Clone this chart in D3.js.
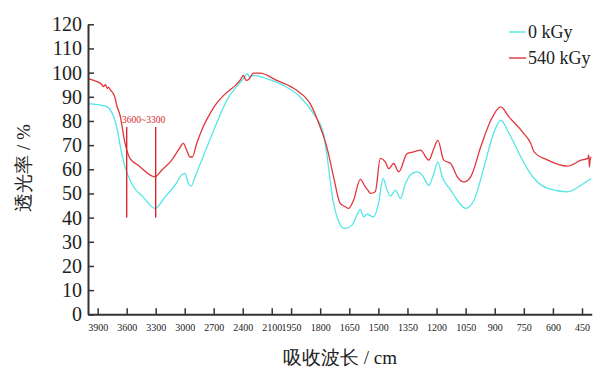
<!DOCTYPE html>
<html>
<head>
<meta charset="utf-8">
<script src="https://cdn.jsdelivr.net/npm/d3@7"></script>
<style>
  body { margin: 0; background: #fff; }
  text { font-family: "Liberation Serif", "Times New Roman", serif; }
</style>
</head>
<body>
<div id="chart"></div>
<script>
// wavenumber (cm^-1) / transmittance (%)
const wn0 = [4000, 3824, 3760, 3703, 3651, 3617, 3548, 3431, 3307, 3203, 3100, 3031, 2997, 2962, 2934, 2893, 2824, 2755, 2686, 2565, 2393, 2352, 2331, 2290, 2151, 1990, 1904, 1835, 1783, 1769, 1734, 1700, 1674, 1636, 1611, 1594, 1576, 1559, 1525, 1499, 1476, 1455, 1438, 1412, 1386, 1360, 1335, 1300, 1274, 1240, 1214, 1193, 1171, 1127, 1093, 1050, 1007, 955, 912, 869, 826, 765, 722, 697, 627, 524, 455, 403];
const t0 = [87.2, 86.2, 84, 77.5, 66.5, 61, 54, 48.6, 43.8, 48.6, 53.4, 57.6, 58.3, 54.1, 53, 56.9, 63.8, 70.7, 77.5, 88.5, 97.5, 99.6, 98.2, 98.9, 97.5, 94.7, 90, 83, 74.8, 68, 47.2, 37.6, 35.5, 36.9, 41, 43.4, 40.3, 41.4, 40.3, 45.9, 56.2, 51.4, 48.9, 51.4, 47.9, 54.1, 57.6, 58.9, 57.6, 53.4, 58.3, 63.1, 56.9, 51.4, 47.2, 43.8, 47.2, 61, 73.4, 80.3, 74.8, 65.1, 58.9, 56.2, 52.1, 50.7, 53.4, 56.2];

const wn540 = [3997, 3940, 3893, 3860, 3840, 3820, 3800, 3790, 3770, 3755, 3738, 3720, 3703, 3669, 3617, 3566, 3480, 3307, 3238, 3134, 3066, 3014, 2979, 2945, 2921, 2876, 2824, 2760, 2686, 2600, 2428, 2393, 2366, 2331, 2290, 2221, 2048, 1921, 1852, 1800, 1766, 1731, 1697, 1670, 1654, 1628, 1593, 1567, 1555, 1541, 1516, 1490, 1464, 1447, 1421, 1395, 1352, 1318, 1283, 1240, 1214, 1193, 1163, 1127, 1093, 1059, 1024, 972, 920, 869, 826, 757, 714, 697, 627, 524, 455, 420, 415, 412, 408, 403];
const t540 = [97.5, 96.8, 96.1, 95.2, 94.2, 95.0, 93.4, 94.0, 93.0, 92.2, 91.3, 89.5, 86.5, 82.4, 70.7, 64.5, 61.7, 56.9, 59.6, 63.8, 67.9, 70.7, 67.9, 65.1, 65.1, 70.7, 76.2, 81.5, 86.5, 90.5, 96.8, 98.9, 96.8, 97.5, 99.8, 99.8, 96.8, 92.7, 87.2, 77.5, 69.3, 56.9, 45.9, 44.5, 43.8, 47.2, 55.8, 52.7, 51.5, 50, 50.7, 64.5, 63.1, 60.3, 62.4, 58.9, 66.5, 67.2, 67.9, 63.8, 68.6, 72, 63.8, 62.4, 56.9, 54.8, 56.9, 69.3, 80.3, 85.8, 81.6, 75.5, 70.7, 67.2, 63.8, 61.3, 63.8, 64.5, 66, 61, 64, 65.1];

const xTicks = [3900, 3600, 3300, 3000, 2700, 2400, 2100, 1950, 1800, 1650, 1500, 1350, 1200, 1050, 900, 750, 600, 450];
const yTicks = [0, 10, 20, 30, 40, 50, 60, 70, 80, 90, 100, 110, 120];

const series = [
  { name: "0 kGy", wn: wn0, t: t0, color: "#55e6e8" },
  { name: "540 kGy", wn: wn540, t: t540, color: "#e0363c" }
];

const markWn = [3600, 3300];
const markRange = [40, 77.5];
const markLabel = "3600~3300";

const width = 603, height = 369;
const svg = d3.select('#chart').append('svg')
  .attr('width', width)
  .attr('height', height);

// broken axis: 4000-2000 at half the density of 2000-400
const x = d3.scaleLinear().domain([4000, 2000, 400]).range([88, 281.4, 591.7]);
const y = d3.scaleLinear().domain([0, 120]).range([314.3, 24.3]);

const line = d3.line()
  .x(d => x(d[0]))
  .y(d => y(d[1]))
  .curve(d3.curveMonotoneX);

series.forEach(s => {
  svg.append('path')
    .datum(s.wn.map((w, i) => [w, s.t[i]]))
    .attr('d', line)
    .attr('fill', 'none')
    .attr('stroke', s.color)
    .attr('stroke-width', 1.3);
});

// annotation
svg.selectAll('.mark')
  .data(markWn)
  .join('line')
  .attr('x1', d => x(d)).attr('x2', d => x(d))
  .attr('y1', y(markRange[1])).attr('y2', y(markRange[0]))
  .attr('stroke', '#d8262c')
  .attr('stroke-width', 1.4);
svg.append('text')
  .attr('x', 122).attr('y', 123)
  .attr('font-size', 9.5)
  .attr('fill', '#d8262c')
  .text(markLabel);

// axes
const axisColor = '#333';
const gx = svg.append('g').attr('transform', `translate(0,${y(0)})`)
  .call(d3.axisBottom(x).tickValues(xTicks).tickFormat(d3.format('d'))
    .tickSize(-6).tickPadding(10).tickSizeOuter(0));
gx.select('.domain').attr('stroke', axisColor).attr('stroke-width', 2);
gx.selectAll('.tick line').attr('stroke', axisColor).attr('stroke-width', 1.5);
gx.selectAll('.tick text')
  .attr('font-family', '"Liberation Serif", serif')
  .attr('font-size', 10)
  .attr('fill', '#222');

const gy = svg.append('g').attr('transform', `translate(${x(4000)},0)`)
  .call(d3.axisLeft(y).tickValues(yTicks).tickFormat(d3.format('d'))
    .tickSize(-6).tickPadding(6).tickSizeOuter(0));
gy.select('.domain').attr('stroke', axisColor).attr('stroke-width', 2);
gy.selectAll('.tick line').attr('stroke', axisColor).attr('stroke-width', 1.5);
gy.selectAll('.tick text')
  .attr('font-family', '"Liberation Serif", serif')
  .attr('font-size', 20)
  .attr('fill', '#222');

// axis titles
svg.append('text')
  .attr('x', 340).attr('y', 364)
  .attr('text-anchor', 'middle')
  .attr('font-size', 19)
  .attr('fill', '#222')
  .text('吸收波长 / cm');

svg.append('text')
  .attr('transform', 'translate(30,168) rotate(-90)')
  .attr('text-anchor', 'middle')
  .attr('font-size', 19)
  .attr('fill', '#222')
  .text('透光率 / %');

// legend
const lg = svg.selectAll('.legend')
  .data(series)
  .join('g')
  .attr('transform', (d, i) => `translate(509,${32 + i * 26})`);
lg.append('line')
  .attr('x1', 0).attr('x2', 17)
  .attr('stroke', d => d.color)
  .attr('stroke-width', 1.4);
lg.append('text')
  .attr('x', 19).attr('y', 6)
  .attr('font-size', 18)
  .attr('fill', '#222')
  .text(d => d.name);
</script>
</body>
</html>
